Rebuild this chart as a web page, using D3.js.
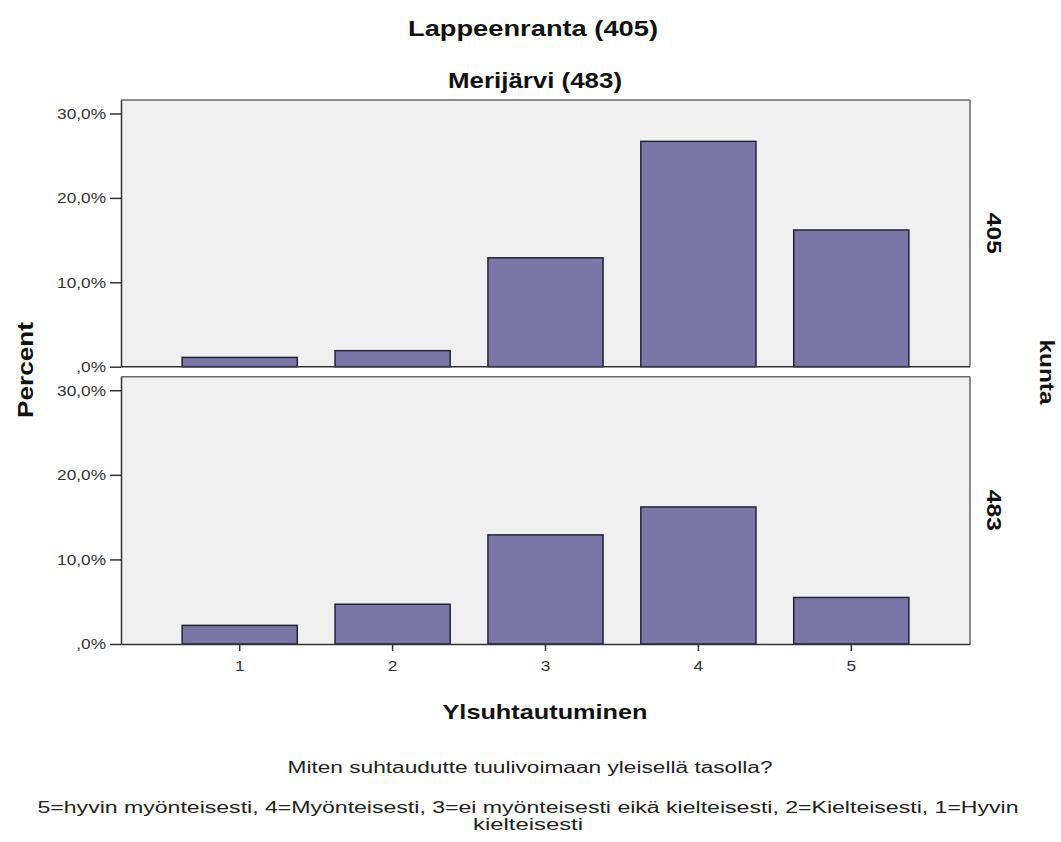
<!DOCTYPE html>
<html>
<head>
<meta charset="utf-8">
<script src="https://cdn.jsdelivr.net/npm/d3@7"></script>
<style>
  html, body { margin: 0; padding: 0; background: #fff; }
  svg { display: block; }
  text { font-family: "Liberation Sans", Arial, sans-serif; }
</style>
</head>
<body>
<svg id="chart" width="1061" height="842"></svg>
<script>
// ---- data ----
const categories = ["1", "2", "3", "4", "5"];
const lappeenranta = [1.1, 1.9, 12.9, 26.7, 16.2];
const merijarvi = [2.2, 4.7, 12.9, 16.2, 5.5];
const panelLabels = ["405", "483"];
const yTicks = [0, 10, 20, 30];
const yTickLabels = [",0%", "10,0%", "20,0%", "30,0%"];
const titles = ["Lappeenranta (405)", "Merijärvi (483)"];
const xTitle = "Ylsuhtautuminen";
const yTitle = "Percent";
const stripTitle = "kunta";
const note1 = "Miten suhtaudutte tuulivoimaan yleisellä tasolla?";
const note2a = "5=hyvin myönteisesti, 4=Myönteisesti, 3=ei myönteisesti eikä kielteisesti, 2=Kielteisesti, 1=Hyvin";
const note2b = "kielteisesti";

// ---- layout ----
const svg = d3.select("#chart");
const left = 121, right = 970;
const panels = [
  { values: lappeenranta, label: panelLabels[0], top: 100, bottom: 366.7 },
  { values: merijarvi, label: panelLabels[1], top: 376.7, bottom: 644 }
];
const yMax = 31.6;
const barFill = "#7877a7";
const barStroke = "#23233a";

const x = d3.scaleBand().domain(categories).range([left, right])
  .paddingInner(0.247).paddingOuter(0.40);

function stretch(sel, k) {
  sel.each(function () {
    const len = this.getComputedTextLength();
    d3.select(this).attr("textLength", len * k).attr("lengthAdjust", "spacingAndGlyphs");
  });
}
function fit(sel, w) {
  sel.attr("textLength", w).attr("lengthAdjust", "spacingAndGlyphs");
}

panels.forEach((p, pi) => {
  const y = d3.scaleLinear().domain([0, yMax]).range([p.bottom, p.top]);
  const g = svg.append("g");
  // background
  g.append("rect").attr("x", left).attr("y", p.top)
    .attr("width", right - left).attr("height", p.bottom - p.top)
    .attr("fill", "#f0f0f0");
  // top & right frame
  g.append("line").attr("x1", left).attr("x2", right).attr("y1", p.top).attr("y2", p.top)
    .attr("stroke", "#6a6a6a").attr("stroke-width", 1.5);
  g.append("line").attr("x1", right).attr("x2", right).attr("y1", p.top).attr("y2", p.bottom)
    .attr("stroke", "#6a6a6a").attr("stroke-width", 1.5);

  // bars
  g.selectAll("rect.bar").data(categories).enter().append("rect")
    .attr("class", "bar")
    .attr("x", d => x(d))
    .attr("width", x.bandwidth())
    .attr("y", (d, i) => y(p.values[i]))
    .attr("height", (d, i) => y(0) - y(p.values[i]))
    .attr("fill", barFill).attr("stroke", barStroke).attr("stroke-width", 1.5);

  // bottom line
  if (pi === 0) {
    g.append("line").attr("x1", left).attr("x2", right).attr("y1", p.bottom).attr("y2", p.bottom)
      .attr("stroke", "#333").attr("stroke-width", 1.5);
  } else {
    const xa = g.append("g").attr("transform", `translate(0,${p.bottom})`)
      .call(d3.axisBottom(x).tickSize(7).tickSizeOuter(0).tickPadding(9));
    xa.select(".domain").attr("stroke", "#333").attr("stroke-width", 1.5);
    xa.selectAll(".tick line").attr("stroke", "#333").attr("stroke-width", 1.5);
    xa.selectAll(".tick text").attr("font-size", 15).attr("fill", "#333")
      .attr("font-family", "Liberation Sans, Arial, sans-serif").call(stretch, 1.15);
  }

  // y axis
  const ya = g.append("g").attr("transform", `translate(${left},0)`)
    .call(d3.axisLeft(y).tickValues(yTicks).tickFormat((d, i) => yTickLabels[i])
      .tickSize(11).tickSizeOuter(0).tickPadding(4));
  ya.select(".domain").attr("stroke", "#333").attr("stroke-width", 1.5);
  ya.selectAll(".tick line").attr("stroke", "#333").attr("stroke-width", 1.5);
  ya.selectAll(".tick text").attr("font-size", 15).attr("fill", "#333")
    .attr("font-family", "Liberation Sans, Arial, sans-serif").call(stretch, 1.15);

  // strip label
  const cy = (p.top + p.bottom) / 2;
  svg.append("text").attr("transform", `translate(987,${cy}) rotate(90)`)
    .attr("text-anchor", "middle").attr("font-size", 21).attr("font-weight", "bold")
    .attr("fill", "#111").text(p.label).call(fit, 41);
});

// titles
svg.append("text").attr("x", 533).attr("y", 36).attr("text-anchor", "middle")
  .attr("font-size", 22).attr("font-weight", "bold").attr("fill", "#111")
  .text(titles[0]).call(fit, 250);
svg.append("text").attr("x", 535).attr("y", 88).attr("text-anchor", "middle")
  .attr("font-size", 22).attr("font-weight", "bold").attr("fill", "#111")
  .text(titles[1]).call(fit, 174);

// axis titles
svg.append("text").attr("transform", "translate(33,370) rotate(-90)")
  .attr("text-anchor", "middle").attr("font-size", 22).attr("font-weight", "bold")
  .attr("fill", "#111").text(yTitle).call(fit, 96);
svg.append("text").attr("transform", "translate(1040,372) rotate(90)")
  .attr("text-anchor", "middle").attr("font-size", 21).attr("font-weight", "bold")
  .attr("fill", "#111").text(stripTitle).call(fit, 65);
svg.append("text").attr("x", 545).attr("y", 719).attr("text-anchor", "middle")
  .attr("font-size", 21).attr("font-weight", "bold").attr("fill", "#111")
  .text(xTitle).call(fit, 205);

// notes
svg.append("text").attr("x", 530).attr("y", 773).attr("text-anchor", "middle")
  .attr("font-size", 16).attr("fill", "#222").text(note1).call(fit, 485);
svg.append("text").attr("x", 528).attr("y", 813).attr("text-anchor", "middle")
  .attr("font-size", 16).attr("fill", "#222").text(note2a).call(fit, 981);
svg.append("text").attr("x", 528).attr("y", 830).attr("text-anchor", "middle")
  .attr("font-size", 16).attr("fill", "#222").text(note2b).call(fit, 110);
</script>
</body>
</html>
